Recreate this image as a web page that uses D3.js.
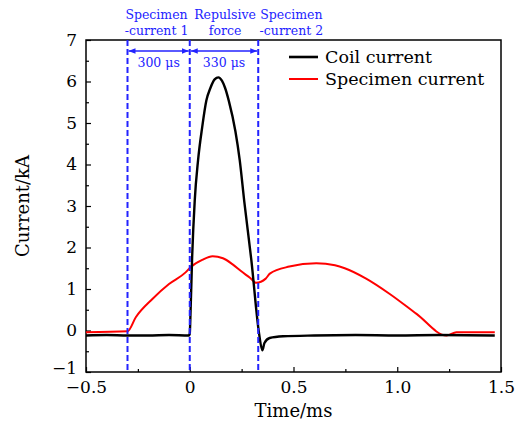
<!DOCTYPE html>
<html>
<head>
<meta charset="utf-8">
<script src="https://cdn.jsdelivr.net/npm/d3@7"></script>
<style>
  body { margin: 0; background: #fff; }
  svg text { font-family: "DejaVu Serif", "Liberation Serif", serif; }
</style>
</head>
<body>
<div id="chart"></div>
<script>
// coil current (kA) vs time (ms)
var coilT = [-0.5, -0.4, -0.3, -0.2, -0.1, -0.005, 0.0, 0.003, 0.011, 0.024, 0.04, 0.06, 0.08, 0.1, 0.12, 0.138, 0.155, 0.17, 0.188, 0.22, 0.241, 0.263, 0.297, 0.334, 0.35, 0.36, 0.385, 0.45, 0.6, 0.8, 1.0, 1.2, 1.47];
var coilV = [-0.12, -0.11, -0.12, -0.12, -0.11, -0.12, -0.08, 0.3, 1.69, 3.13, 4.1, 4.9, 5.54, 5.85, 6.05, 6.1, 6.02, 5.85, 5.54, 4.8, 4.1, 3.1, 1.69, -0.07, -0.48, -0.3, -0.18, -0.14, -0.12, -0.11, -0.12, -0.11, -0.12];

// specimen current (kA)
var specT = [-0.5, -0.3, -0.26, -0.18, -0.1, -0.02, 0.005, 0.06, 0.11, 0.16, 0.205, 0.25, 0.29, 0.32, 0.366, 0.386, 0.48, 0.61, 0.7, 0.747, 0.85, 0.964, 1.093, 1.237, 1.285, 1.47];
var specV = [-0.04, -0.02, 0.32, 0.76, 1.12, 1.40, 1.53, 1.7, 1.79, 1.74, 1.6, 1.42, 1.27, 1.15, 1.25, 1.37, 1.54, 1.62, 1.57, 1.5, 1.25, 0.88, 0.40, -0.12, -0.04, -0.04];

var xTicks = [-0.5, 0, 0.5, 1.0, 1.5];
var xTickLabels = ["\u22120.5", "0", "0.5", "1.0", "1.5"];
var yTicks = [-1, 0, 1, 2, 3, 4, 5, 6, 7];

// stage boundaries (ms) and annotations
var bounds = [-0.3, 0, 0.33];
var spans = ["300 \u03bcs", "330 \u03bcs"];
var stageTop = [["Specimen", "-current 1"], ["Repulsive", "force"], ["Specimen", "-current 2"]];
var stageMid = [-0.16, 0.17, 0.49];

var seriesNames = ["Coil current", "Specimen current"];
var seriesColors = ["#000", "#ff0000"];

var width = 522, height = 426;
var mLeft = 86, mRight = 501, mTop = 40, mBottom = 372;

var svg = d3.select("#chart").append("svg")
    .attr("width", width)
    .attr("height", height);

var x = d3.scaleLinear().domain([-0.5, 1.5]).range([mLeft, mRight]);
var y = d3.scaleLinear().domain([-1, 7]).range([mBottom, mTop]);

// axes, ticks inward
var xAxis = d3.axisBottom(x).tickValues(xTicks).tickSize(-5).tickPadding(9)
    .tickFormat(function(d, i) { return xTickLabels[i]; });
var gx = svg.append("g").attr("transform", "translate(0," + mBottom + ")").call(xAxis);
svg.append("g").attr("transform", "translate(0," + mBottom + ")")
    .call(d3.axisBottom(x).tickValues(d3.range(-0.25, 1.5, 0.5)).tickSize(-3).tickFormat(""));

var yAxis = d3.axisLeft(y).tickValues(yTicks).tickSize(-5).tickPadding(9)
    .tickFormat(function(d) { return d < 0 ? "\u2212" + (-d) : d; });
var gy = svg.append("g").attr("transform", "translate(" + mLeft + ",0)").call(yAxis);
svg.append("g").attr("transform", "translate(" + mLeft + ",0)")
    .call(d3.axisLeft(y).tickValues(d3.range(-0.5, 7, 1)).tickSize(-3).tickFormat(""));

svg.selectAll(".domain").remove();
svg.selectAll(".tick line").attr("stroke", "#000").attr("stroke-width", 1.2);
gx.selectAll("text").attr("font-size", 17).attr("fill", "#000");
gy.selectAll("text").attr("font-size", 17).attr("fill", "#000")
    .attr("dy", function(d) { return d === -1 ? "0.1em" : "0.32em"; });

// frame
svg.append("rect")
    .attr("x", mLeft).attr("y", mTop)
    .attr("width", mRight - mLeft).attr("height", mBottom - mTop)
    .attr("fill", "none").attr("stroke", "#000").attr("stroke-width", 1.5);

// axis titles
svg.append("text")
    .attr("x", (mLeft + mRight) / 2).attr("y", 417)
    .attr("text-anchor", "middle").attr("font-size", 18)
    .text("Time/ms");
svg.append("text")
    .attr("transform", "translate(29," + ((mTop + mBottom) / 2) + ") rotate(-90)")
    .attr("text-anchor", "middle").attr("font-size", 18)
    .text("Current/kA");

// curves
var line = d3.line()
    .x(function(d) { return x(d[0]); })
    .y(function(d) { return y(d[1]); })
    .curve(d3.curveMonotoneX);

svg.append("path")
    .datum(specT.map(function(t, i) { return [t, specV[i]]; }))
    .attr("d", line)
    .attr("fill", "none").attr("stroke", seriesColors[1]).attr("stroke-width", 2);

svg.append("path")
    .datum(coilT.map(function(t, i) { return [t, coilV[i]]; }))
    .attr("d", line)
    .attr("fill", "none").attr("stroke", seriesColors[0]).attr("stroke-width", 2.4);

// stage boundaries
var blue = "#2323ff";
svg.selectAll(".bound").data(bounds).enter().append("line")
    .attr("x1", function(d) { return x(d); }).attr("x2", function(d) { return x(d); })
    .attr("y1", mTop).attr("y2", mBottom)
    .attr("stroke", blue).attr("stroke-width", 2).attr("stroke-dasharray", "6,3");

// arrows
var defs = svg.append("defs");
defs.append("marker").attr("id", "ah").attr("viewBox", "0 0 10 10")
    .attr("refX", 10).attr("refY", 5).attr("markerWidth", 7).attr("markerHeight", 7)
    .attr("orient", "auto-start-reverse").attr("markerUnits", "userSpaceOnUse")
    .append("path").attr("d", "M0,1 L10,5 L0,9 Z").attr("fill", blue);

var arrowY = 51;
for (var i = 0; i < spans.length; i++) {
  svg.append("line")
      .attr("x1", x(bounds[i]) + 1).attr("x2", x(bounds[i + 1]) - 1)
      .attr("y1", arrowY).attr("y2", arrowY)
      .attr("stroke", blue).attr("stroke-width", 1.5)
      .attr("marker-start", "url(#ah)").attr("marker-end", "url(#ah)");
  svg.append("text")
      .attr("x", (x(bounds[i]) + x(bounds[i + 1])) / 2).attr("y", 67)
      .attr("text-anchor", "middle").attr("font-size", 12.5).attr("fill", blue)
      .text(spans[i]);
}

stageTop.forEach(function(lines, i) {
  var cx = x(stageMid[i]);
  var t = svg.append("text")
      .attr("text-anchor", "middle").attr("font-size", 12.5).attr("fill", blue);
  t.append("tspan").attr("x", cx).attr("y", 19).text(lines[0]);
  t.append("tspan").attr("x", cx).attr("y", 35).text(lines[1]);
});

// legend
seriesNames.forEach(function(name, i) {
  var ly = 57 + i * 22;
  svg.append("line")
      .attr("x1", 289).attr("x2", 318).attr("y1", ly).attr("y2", ly)
      .attr("stroke", seriesColors[i]).attr("stroke-width", i === 0 ? 2.6 : 2);
  svg.append("text")
      .attr("x", 325).attr("y", ly + 6)
      .attr("font-size", 17.5).text(name);
});
</script>
</body>
</html>
